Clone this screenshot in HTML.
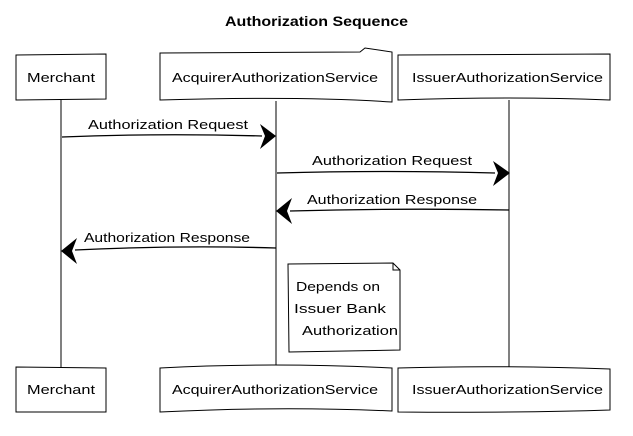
<!DOCTYPE html>
<html><head><meta charset="utf-8"><style>
html,body{margin:0;padding:0;background:#fff;width:633px;height:436px;overflow:hidden}
text{font-family:"Liberation Sans",sans-serif;fill:#000}
</style></head><body>
<svg width="633" height="436" xmlns="http://www.w3.org/2000/svg">
<text x="225" y="26" font-size="14" font-weight="bold" textLength="183" lengthAdjust="spacingAndGlyphs">Authorization Sequence</text>
<g stroke="#000" stroke-width="1" fill="none">
<line x1="61" y1="99" x2="61" y2="367"/>
<line x1="276" y1="101" x2="276" y2="367"/>
<line x1="509" y1="100" x2="509" y2="367"/>
<path d="M16 55 L106 54 L106 99 L16 100 Z" fill="#fff"/>
<path d="M160 53 L360 52 L365 48 L392 52 L392 102 Q300 96 160 100 Z" fill="#fff"/>
<path d="M398 55 L610 54 L610 100 Q510 96 398 100 Z" fill="#fff"/>
<path d="M16 367 L106 368 L106 412 L16 412 Z" fill="#fff"/>
<path d="M160 368 Q270 362 392 368 L392 411 Q280 406 160 412 Z" fill="#fff"/>
<path d="M398 368 Q500 365 610 369 L610 410 Q520 413 398 412 Z" fill="#fff"/>
<path d="M288 264 L393 263 L400 270 L400 350 L289 352 Z" fill="#fff"/>
<path d="M393 263 L393 270 L400 270"/>
<path d="M62 137 Q160 133 262 136" stroke-width="1.3"/>
<path d="M277 173 Q390 170 495 173" stroke-width="1.3"/>
<path d="M290 211 Q400 208 509 210" stroke-width="1.3"/>
<path d="M75 250 Q180 245 276 248" stroke-width="1.3"/>
</g>
<g fill="#000">
<path d="M276 136 L260 124 L265 136 L260 149 Z"/>
<path d="M510 173 L493 161 L498 173 L493 186 Z"/>
<path d="M276 211 L292 198 L287 211 L292 224 Z"/>
<path d="M61 251 L77 238 L72 251 L77 264 Z"/>
</g>
<g font-size="13" lengthAdjust="spacingAndGlyphs">
<text x="27" y="82" textLength="68" lengthAdjust="spacingAndGlyphs">Merchant</text>
<text x="172" y="82" textLength="206" lengthAdjust="spacingAndGlyphs">AcquirerAuthorizationService</text>
<text x="412" y="82" textLength="191" lengthAdjust="spacingAndGlyphs">IssuerAuthorizationService</text>
<text x="27" y="394" textLength="68" lengthAdjust="spacingAndGlyphs">Merchant</text>
<text x="172" y="394" textLength="206" lengthAdjust="spacingAndGlyphs">AcquirerAuthorizationService</text>
<text x="412" y="394" textLength="191" lengthAdjust="spacingAndGlyphs">IssuerAuthorizationService</text>
<text x="88" y="129" textLength="160" lengthAdjust="spacingAndGlyphs">Authorization Request</text>
<text x="312" y="165" textLength="160" lengthAdjust="spacingAndGlyphs">Authorization Request</text>
<text x="307" y="204" textLength="170" lengthAdjust="spacingAndGlyphs">Authorization Response</text>
<text x="84" y="242" textLength="166" lengthAdjust="spacingAndGlyphs">Authorization Response</text>
<text x="296" y="291" textLength="84" lengthAdjust="spacingAndGlyphs">Depends on</text>
<text x="294" y="313" textLength="92" lengthAdjust="spacingAndGlyphs">Issuer Bank</text>
<text x="302" y="335" textLength="96" lengthAdjust="spacingAndGlyphs">Authorization</text>
</g>
</svg>
</body></html>
